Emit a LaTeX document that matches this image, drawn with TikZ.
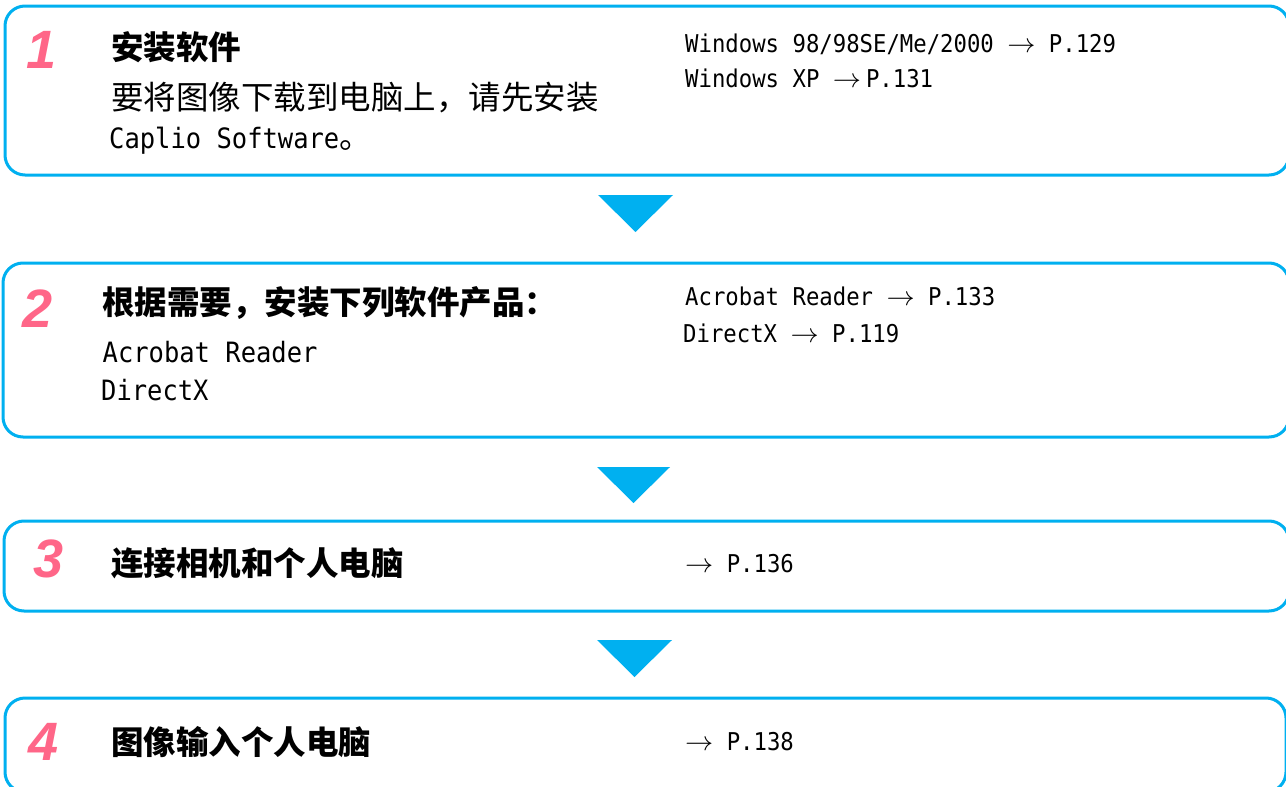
\documentclass[tikz,border=0pt]{standalone}
\usepackage{fix-cm}
\usepackage{fontspec}
\setmainfont{Noto Sans CJK SC}
\newfontfamily\cjkfont{Noto Sans CJK SC}
\newfontfamily\latmono[FakeStretch=0.91]{DejaVu Sans Mono}
\newfontfamily\stepfont{Liberation Sans}
\definecolor{frameblue}{RGB}{0,176,240}
\definecolor{numpink}{RGB}{255,102,136}
\newcommand{\pgarrow}{\scalebox{1.15}[1.1]{$\rightarrow$}}
\begin{document}
\begin{tikzpicture}[x=1pt,y=-1pt,
  stepframe/.style={draw=frameblue,line width=3pt,rounded corners=20pt},
  arrowtri/.style={fill=frameblue},
  stepnum/.style={anchor=base west,inner sep=0pt,text=numpink,font=\stepfont\bfseries\itshape\fontsize{54}{60}\selectfont},
  headtext/.style={anchor=base west,inner sep=0pt,font=\cjkfont\bfseries\fontsize{32.5}{38}\selectfont},
  bodytext/.style={anchor=base west,inner sep=0pt,font=\cjkfont\fontsize{32.5}{38}\selectfont},
  bodylat/.style={anchor=base west,inner sep=0pt,font=\latmono\fontsize{28}{34}\selectfont},
  refnote/.style={anchor=base west,inner sep=0pt,font=\latmono\fontsize{24.5}{30}\selectfont},
]
\useasboundingbox (0,0) rectangle (1286,787);
\clip (0,0) rectangle (1286,787);
\fill[white] (0,0) rectangle (1286,787);

% frames
\draw[stepframe] (5,6) rectangle (1289,175);
\draw[stepframe] (3,263) rectangle (1289,437);
\draw[stepframe] (4,521) rectangle (1289,611);
\draw[stepframe] (5,698) rectangle (1286,792);

% down triangles
\fill[arrowtri] (598,195) -- (673,195) -- (635.5,232) -- cycle;
\fill[arrowtri] (597,467) -- (670,467) -- (633.5,503) -- cycle;
\fill[arrowtri] (597,640) -- (672,640) -- (634.5,677) -- cycle;

% step 1
\node[stepnum] (n1) at (26,68) {1};
\node[headtext] (h1) at (111,59.7) {安装软件};
\node[bodytext] (b1a) at (111,109.7) {要将图像下载到电脑上，请先安装};
\node[bodylat] (b1b) at (109,148) {Caplio Software{\cjkfont\fontsize{32.5}{38}\selectfont 。}};
\node[refnote] (r1a) at (685,52) {Windows 98/98SE/Me/2000 \pgarrow{} P.129};
\node[refnote] (r1b) at (685,87) {Windows XP \pgarrow\hspace{5pt}P.131};

% step 2
\node[stepnum] (n2) at (22,327) {2};
\node[headtext] (h2) at (102,314.7) {根据需要，安装下列软件产品：};
\node[bodylat] (b2a) at (102.5,362) {Acrobat Reader};
\node[bodylat] (b2b) at (101,400) {DirectX};
\node[refnote] (r2a) at (685,305) {Acrobat Reader \pgarrow{} P.133};
\node[refnote] (r2b) at (683,342) {DirectX \pgarrow{} P.119};

% step 3
\node[stepnum] (n3) at (33,577) {3};
\node[headtext] (h3) at (111,575) {连接相机和个人电脑};
\node[refnote] (r3) at (685,572) {\pgarrow{} P.136};

% step 4
\node[stepnum] (n4) at (28,760) {4};
\node[headtext] (h4) at (111,754) {图像输入个人电脑};
\node[refnote] (r4) at (685,750) {\pgarrow{} P.138};
\end{tikzpicture}
\end{document}
